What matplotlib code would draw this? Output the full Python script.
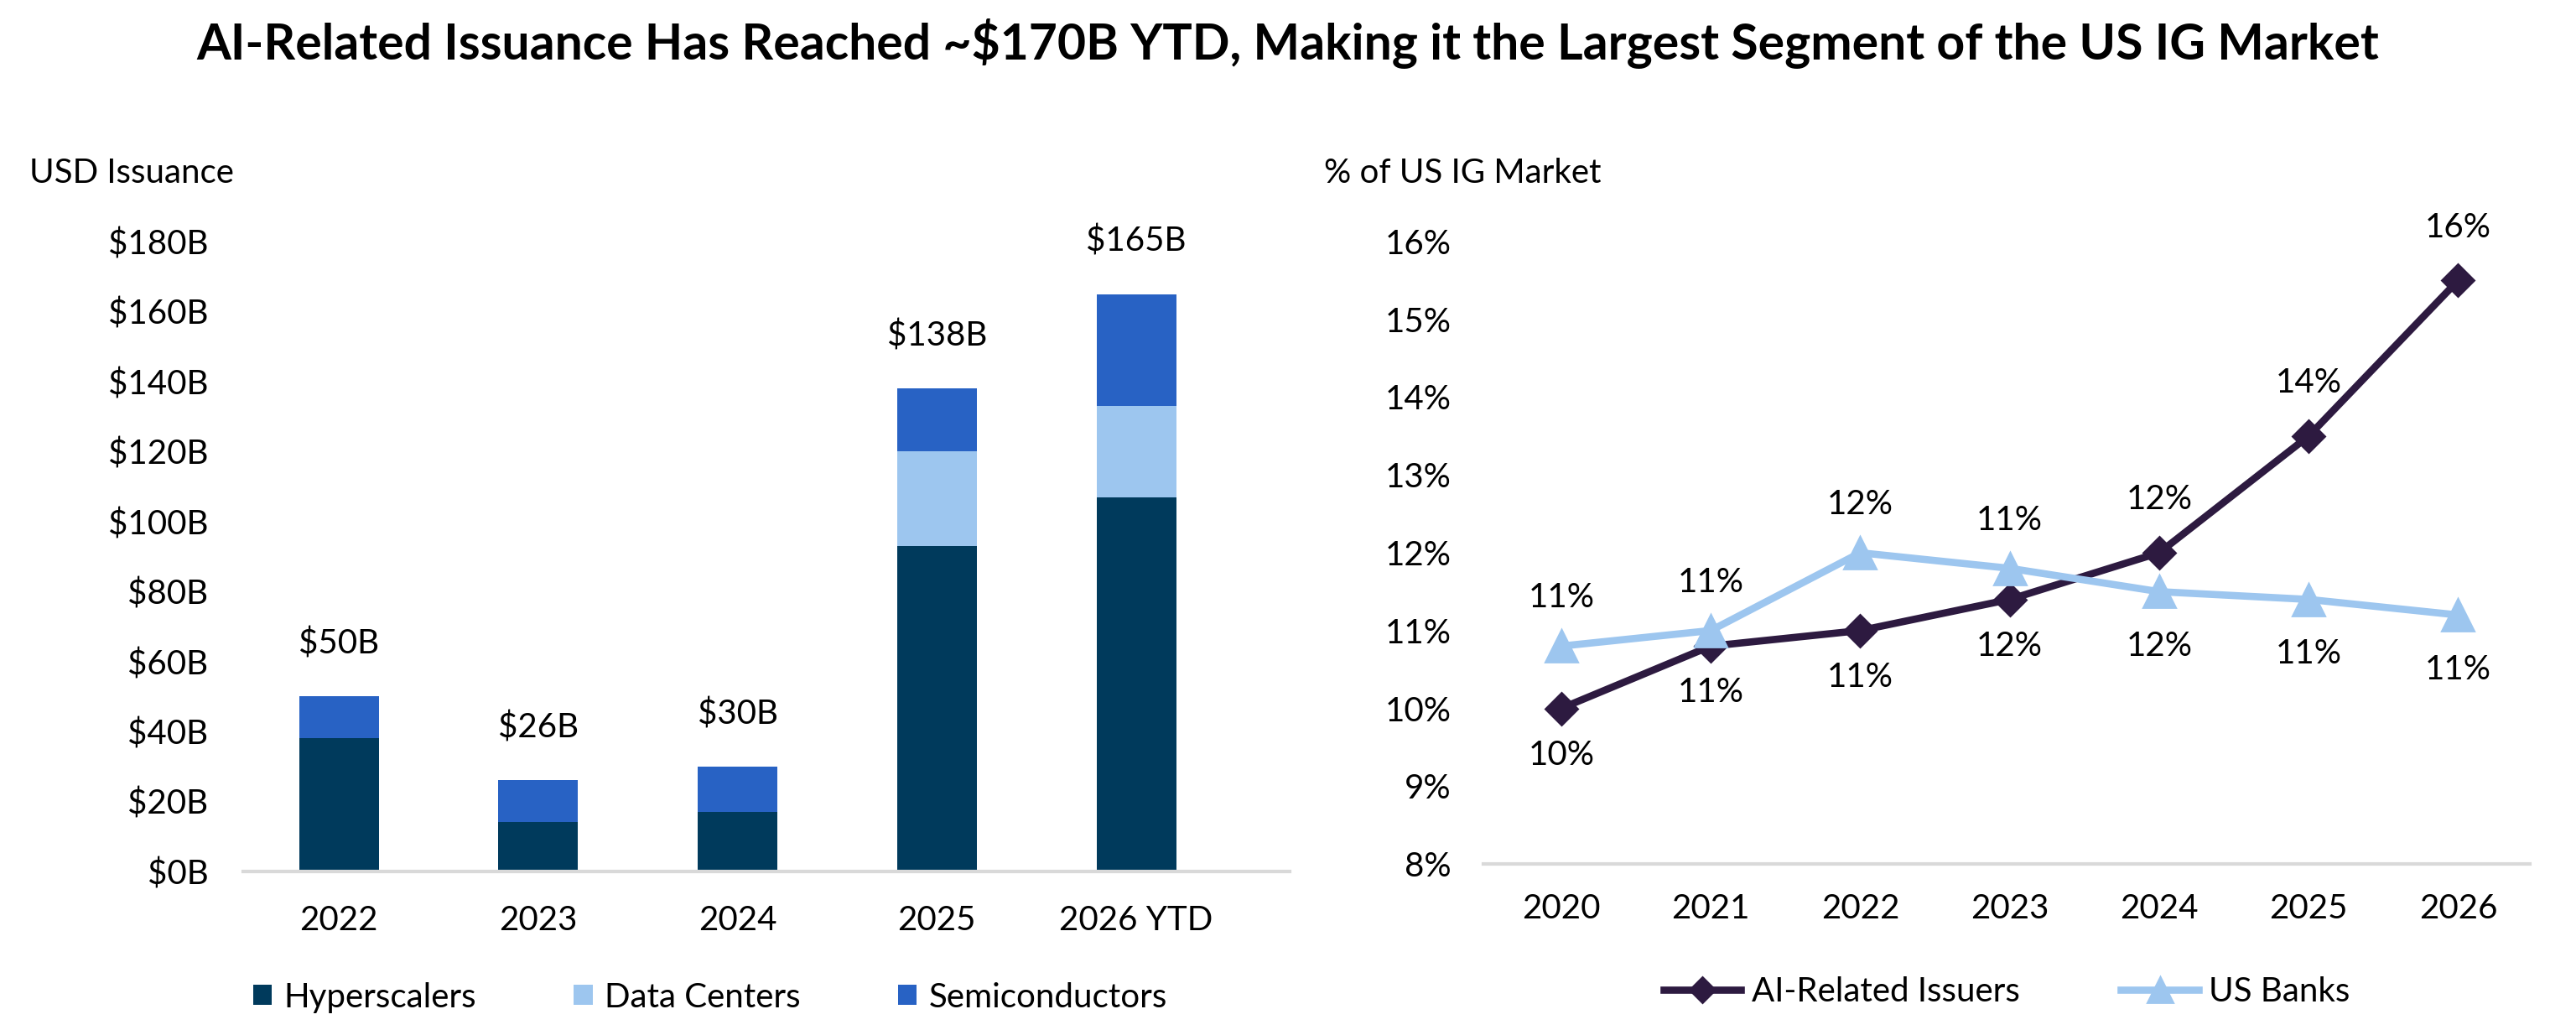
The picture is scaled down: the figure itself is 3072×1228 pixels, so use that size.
import matplotlib
matplotlib.use("Agg")
import matplotlib.pyplot as plt
import numpy as np

plt.rcParams['font.family'] = ['Lato', 'DejaVu Sans']

# left chart: AI-related USD issuance, $B
years_bar = ["2022", "2023", "2024", "2025", "2026 YTD"]
hyperscalers = [38, 14, 17, 93, 107]
data_centers = [0, 0, 0, 27, 26]
semiconductors = [12, 12, 13, 18, 32]
bar_totals = ["$50B", "$26B", "$30B", "$138B", "$165B"]

# right chart: share of US IG market, %
years_line = ["2020", "2021", "2022", "2023", "2024", "2025", "2026"]
ai_issuers = [10.0, 10.8, 11.0, 11.4, 12.0, 13.5, 15.5]
us_banks = [10.8, 11.0, 12.0, 11.8, 11.5, 11.4, 11.2]
ai_labels = ["10%", "11%", "11%", "12%", "12%", "14%", "16%"]
bank_labels = ["11%", "11%", "12%", "11%", "12%", "11%", "11%"]
ai_label_above = [False, False, False, False, True, True, True]

c_hyper = "#003a5c"
c_dc = "#9dc6ef"
c_semi = "#2862c4"
c_ai = "#2d1a40"
c_bank = "#9dc6ef"
c_axis = "#d9d9d9"
fs = 14.5

fig = plt.figure(figsize=(15.36, 6.14), dpi=200)

fig.text(0.5, 0.958, "AI-Related Issuance Has Reached ~$170B YTD, Making it the Largest Segment of the US IG Market",
         ha="center", va="center", fontsize=21.2, fontweight="bold")

# ---- bars
ax1 = fig.add_axes([0.0944, 0.1540, 0.4063, 0.6115])
x = np.arange(len(years_bar))
bottom2 = np.array(hyperscalers)
bottom3 = bottom2 + np.array(data_centers)
ax1.bar(x, hyperscalers, width=0.4, color=c_hyper, label="Hyperscalers")
ax1.bar(x, data_centers, width=0.4, bottom=bottom2, color=c_dc, label="Data Centers")
ax1.bar(x, semiconductors, width=0.4, bottom=bottom3, color=c_semi, label="Semiconductors")
tops = bottom3 + np.array(semiconductors)
for xi, top, lab in zip(x, tops, bar_totals):
    ax1.text(xi, top + 15, lab, ha="center", va="center", fontsize=fs)

ax1.set_ylim(0, 180)
ax1.set_xlim(-0.48, 4.77)
ax1.set_yticks(np.arange(0, 181, 20))
ax1.set_yticklabels([f"${v}B" for v in range(0, 181, 20)])
ax1.set_xticks(x)
ax1.set_xticklabels(years_bar)

fig.text(0.0114, 0.832, "USD Issuance", ha="left", va="center", fontsize=fs)

ax1.legend(loc="center", bbox_to_anchor=(0.446, -0.2), ncol=3, frameon=False, fontsize=fs,
           handlelength=0.55, handleheight=0.55, handletextpad=0.35, columnspacing=2.9)

# ---- lines
ax2 = fig.add_axes([0.5759, 0.1612, 0.4062, 0.6043])
xl = np.arange(len(years_line))
ax2.plot(xl, ai_issuers, color=c_ai, lw=3.1, marker="D", markersize=9.5, label="AI-Related Issuers", zorder=3)
ax2.plot(xl, us_banks, color=c_bank, lw=3.1, marker="^", markersize=13.5, label="US Banks", zorder=4)

for xi, v, lab, up in zip(xl, ai_issuers, ai_labels, ai_label_above):
    ax2.text(xi, v + (0.68 if up else -0.6), lab, ha="center", va="center", fontsize=fs)
for xi, v, lab, up in zip(xl, us_banks, bank_labels, ai_label_above):
    ax2.text(xi, v + (-0.7 if up else 0.62), lab, ha="center", va="center", fontsize=fs)

ax2.set_ylim(8, 16)
ax2.set_xlim(-0.52, 6.48)
ax2.set_yticks(range(8, 17))
ax2.set_yticklabels([f"{v}%" for v in range(8, 17)])
ax2.set_xticks(xl)
ax2.set_xticklabels(years_line)

fig.text(0.514, 0.832, "% of US IG Market", ha="left", va="center", fontsize=fs)

ax2.legend(loc="center", bbox_to_anchor=(0.5, -0.205), ncol=2, frameon=False, fontsize=fs,
           handlelength=2.3, handletextpad=0.3, columnspacing=3.0, markerscale=0.8)

for ax, pad, xpad in ((ax1, 15, 14.5), (ax2, 14, 12.5)):
    for s in ("top", "right", "left"):
        ax.spines[s].set_visible(False)
    ax.spines["bottom"].set_color(c_axis)
    ax.spines["bottom"].set_linewidth(1.5)
    ax.tick_params(axis="both", length=0, labelsize=fs)
    ax.tick_params(axis="y", pad=pad)
    ax.tick_params(axis="x", pad=xpad)

fig.savefig("out.png", dpi=200)
